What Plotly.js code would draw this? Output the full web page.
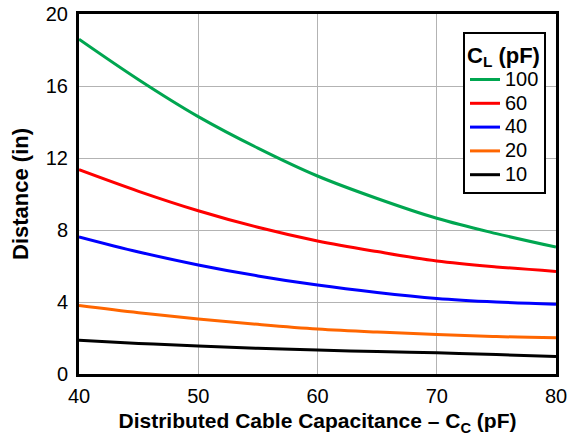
<!DOCTYPE html>
<html>
<head>
<meta charset="utf-8">
<script src="https://cdn.plot.ly/plotly-3.0.1.min.js"></script>
<style>html,body{margin:0;padding:0;background:#fff;}#chart{width:567px;height:436px;}</style>
</head>
<body>
<div id="chart"></div>
<script>
const cableCap = [40, 45, 50, 55, 60, 65, 70, 75, 80];
const dist100 = [18.6, 16.35, 14.3, 12.55, 11.0, 9.75, 8.65, 7.8, 7.05];
const dist60  = [11.35, 10.15, 9.07, 8.15, 7.39, 6.8, 6.28, 5.95, 5.7];
const dist40  = [7.62, 6.78, 6.06, 5.45, 4.94, 4.53, 4.2, 4.0, 3.87];
const dist20  = [3.8, 3.4, 3.06, 2.76, 2.5, 2.33, 2.2, 2.08, 2.02];
const dist10  = [1.87, 1.7, 1.55, 1.43, 1.33, 1.25, 1.18, 1.08, 0.97];
const seriesNames = ['100', '60', '40', '20', '10'];
const seriesColors = ['#00a650', '#ff0000', '#0000ff', '#ff6600', '#000000'];
const seriesData = [dist100, dist60, dist40, dist20, dist10];

const traces = seriesData.map((d, i) => ({
  x: cableCap, y: d,
  name: '<span style="font-size:20px">' + seriesNames[i] + '</span>',
  type: 'scatter', mode: 'lines',
  line: {color: seriesColors[i], width: 3, shape: 'spline', smoothing: 1}
}));

const font = {family: 'Liberation Sans, Arial, sans-serif', color: '#000'};
const f = s => Object.assign({size: s}, font);
const layout = {
  width: 567, height: 436,
  margin: {l: 79, r: 11, t: 14, b: 62},
  paper_bgcolor: '#fff', plot_bgcolor: '#fff',
  font: f(20),
  showlegend: true,
  legend: {
    x: 0.805, y: 0.95, xanchor: 'left', yanchor: 'top',
    bgcolor: '#fff', bordercolor: '#000', borderwidth: 2,
    font: f(16),
    title: {text: '<b>C<sub>L</sub> (pF)</b>', font: f(22)},
    itemwidth: 30, tracegroupgap: 0
  },
  xaxis: {
    range: [40, 80], tickvals: [40, 50, 60, 70, 80], ticks: '',
    showgrid: true, gridcolor: '#b3b3b3', gridwidth: 1,
    showline: true, linecolor: '#000', linewidth: 3, mirror: true,
    zeroline: false, tickfont: f(20), ticklabelstandoff: 2, ticklabeloverflow: 'allow',
    title: {text: '<b>Distributed Cable Capacitance – C<sub>C</sub> (pF)</b>', font: f(21), standoff: 8}
  },
  yaxis: {
    range: [0, 20], tickvals: [0, 4, 8, 12, 16, 20], ticks: '',
    showgrid: true, gridcolor: '#b3b3b3', gridwidth: 1,
    showline: true, linecolor: '#000', linewidth: 3, mirror: true,
    zeroline: false, tickfont: f(20), ticklabelstandoff: 4,
    title: {text: '<b>Distance (in)</b>', font: f(22), standoff: 12}
  }
};
Plotly.newPlot('chart', traces, layout, {displayModeBar: false, staticPlot: true});
</script>
</body>
</html>
